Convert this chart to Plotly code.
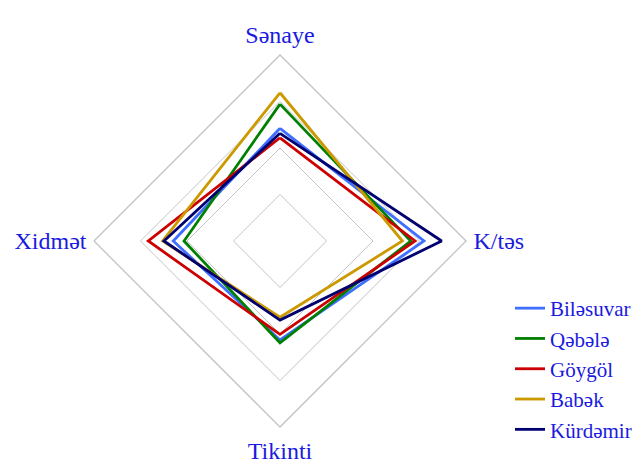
import plotly.graph_objects as go

categories = ["Sənaye", "K/təs", "Tikinti", "Xidmət"]
series_names = ["Biləsuvar", "Qəbələ", "Göygöl", "Babək", "Kürdəmir"]
bilesuvar = [60.6, 77.4, 53.2, 57.4]
qebele = [73.6, 70.3, 54.7, 51.6]
goygol = [55.5, 72.6, 50.2, 70.8]
babek = [79.7, 65.8, 41.0, 63.1]
kurdemir = [57.9, 86.9, 42.5, 62.4]
series_values = [bilesuvar, qebele, goygol, babek, kurdemir]
colors = ["#3f6fff", "#008000", "#cc0000", "#cc9900", "#000070"]

FONT = "Liberation Serif"
TXT = "#1a1ae0"

fig = go.Figure()
for name, vals, col in zip(series_names, series_values, colors):
    fig.add_trace(go.Scatterpolar(
        r=vals + vals[:1],
        theta=categories + categories[:1],
        mode="lines",
        name=name,
        line=dict(color=col, width=2.8),
    ))

fig.update_layout(
    width=640, height=462,
    margin=dict(l=0, r=0, t=0, b=0, autoexpand=False),
    paper_bgcolor="white",
    plot_bgcolor="white",
    font=dict(family=FONT, size=21, color=TXT),
    polar=dict(
        domain=dict(x=[94/640, 466/640], y=[1-427/462, 1-55/462]),
        bgcolor="white",
        gridshape="linear",
        radialaxis=dict(range=[0, 100], dtick=25, showticklabels=False,
                        ticks="", showline=False, gridcolor="#c4c4c4", gridwidth=1.4),
        angularaxis=dict(rotation=90, direction="clockwise", showgrid=False,
                         ticks="outside", ticklen=2, tickcolor="rgba(0,0,0,0)",
                         linecolor="#c4c4c4", linewidth=1.4,
                         tickfont=dict(family=FONT, size=24, color=TXT)),
    ),
    showlegend=True,
    legend=dict(x=510/640, y=1-288/462, xanchor="left", yanchor="top",
                font=dict(family=FONT, size=21, color=TXT),
                bgcolor="rgba(0,0,0,0)", tracegroupgap=0),
)

fig.write_html("out.html", config={"displayModeBar": False},
               post_script="document.body.style.margin='0';document.body.style.overflow='hidden';")
